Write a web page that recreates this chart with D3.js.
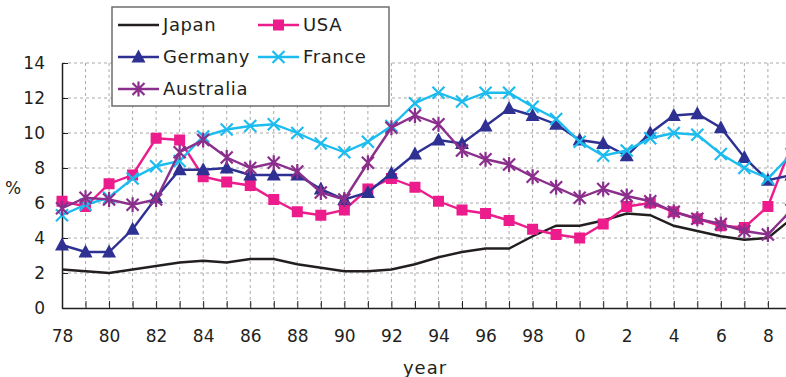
<!DOCTYPE html>
<html lang="en">
<head>
<meta charset="utf-8">
<title>Unemployment rates</title>
<script src="https://cdn.jsdelivr.net/npm/d3@7"></script>
<style>
  body { margin: 0; background: #fff; }
  svg text { font-family: "DejaVu Sans", sans-serif; fill: #231f20; }
</style>
</head>
<body>
<script>
// data (unemployment rate, %)
var years = d3.range(1978, 2010);
var japan     = [2.2,2.1,2.0,2.2,2.4,2.6,2.7,2.6,2.8,2.8,2.5,2.3,2.1,2.1,2.2,2.5,2.9,3.2,3.4,3.4,4.1,4.7,4.7,5.0,5.4,5.3,4.7,4.4,4.1,3.9,4.0,5.1];
var usa       = [6.1,5.8,7.1,7.6,9.7,9.6,7.5,7.2,7.0,6.2,5.5,5.3,5.6,6.8,7.4,6.9,6.1,5.6,5.4,5.0,4.5,4.2,4.0,4.8,5.8,6.0,5.5,5.1,4.7,4.6,5.8,9.3];
var germany   = [3.6,3.2,3.2,4.5,6.3,7.9,7.9,8.0,7.6,7.6,7.6,6.8,6.2,6.6,7.7,8.8,9.6,9.4,10.4,11.4,11.0,10.5,9.6,9.4,8.7,10.0,11.0,11.1,10.3,8.6,7.3,7.6];
var france    = [5.3,5.9,6.3,7.4,8.1,8.4,9.8,10.2,10.4,10.5,10.0,9.4,8.9,9.5,10.4,11.7,12.3,11.8,12.3,12.3,11.5,10.8,9.5,8.7,9.0,9.7,10.0,9.9,8.8,8.0,7.4,8.8];
var australia = [5.7,6.3,6.2,5.9,6.2,8.9,9.6,8.6,8.0,8.3,7.8,6.6,6.2,8.3,10.3,11.0,10.5,9.0,8.5,8.2,7.5,6.9,6.3,6.8,6.4,6.1,5.5,5.1,4.8,4.4,4.2,5.6];
var yTicks = [0,2,4,6,8,10,12,14];

var w = 786, h = 377;
var plotLeft = 62, plotBottom = 308, plotTop = 63;

var svg = d3.select("body").append("svg")
    .attr("width", w).attr("height", h);

var x = d3.scaleLinear().domain([1978, 2009]).range([plotLeft, plotLeft + 31 * 23.53]);
var y = d3.scaleLinear().domain([0, 14]).range([plotBottom, plotTop]);

// grid
svg.append("g").selectAll("line").data(years.slice(1))
    .enter().append("line")
    .attr("x1", function(d){ return x(d); }).attr("x2", function(d){ return x(d); })
    .attr("y1", plotTop).attr("y2", plotBottom)
    .attr("stroke", "#aaaaaa").attr("stroke-width", 1).attr("stroke-dasharray", "3,3");
svg.append("g").selectAll("line").data(yTicks.slice(1))
    .enter().append("line")
    .attr("x1", plotLeft).attr("x2", w)
    .attr("y1", function(d){ return y(d); }).attr("y2", function(d){ return y(d); })
    .attr("stroke", "#aaaaaa").attr("stroke-width", 1).attr("stroke-dasharray", "3,3");

// axes
var xAxis = d3.axisBottom(x).tickValues(years).tickSizeInner(-7).tickSizeOuter(0)
    .tickFormat(function(d){ return d % 2 === 0 ? String(d % 100) : ""; });
var gx = svg.append("g").attr("transform", "translate(0," + plotBottom + ")").call(xAxis);
gx.select(".domain").attr("stroke", "#231f20").attr("stroke-width", 1.5);
gx.selectAll(".tick line").attr("stroke", "#231f20").attr("stroke-width", 1);
gx.selectAll(".tick text").attr("y", 22).attr("font-size", 17).attr("fill", "#231f20")
    .attr("font-family", "DejaVu Sans");

var yAxis = d3.axisLeft(y).tickValues(yTicks).tickSizeInner(-6).tickSizeOuter(0);
var gy = svg.append("g").attr("transform", "translate(" + plotLeft + ",0)").call(yAxis);
gy.select(".domain").attr("stroke", "#231f20").attr("stroke-width", 1.5);
gy.selectAll(".tick line").attr("stroke", "#231f20").attr("stroke-width", 1);
gy.selectAll(".tick text").attr("x", -17).attr("font-size", 17).attr("fill", "#231f20")
    .attr("font-family", "DejaVu Sans");

svg.append("text").attr("x", 13).attr("y", 188).attr("dy", "0.35em")
    .attr("text-anchor", "middle").attr("font-size", 17).text("%");
svg.append("text").attr("x", 425).attr("y", 368).attr("dy", "0.35em")
    .attr("text-anchor", "middle").attr("font-size", 18).attr("letter-spacing", 1).text("year");

// markers
function drawMarker(g, type, color) {
    if (type === "square") {
        g.append("rect").attr("x", -5.5).attr("y", -5.5).attr("width", 11).attr("height", 11).attr("fill", color);
    } else if (type === "triangle") {
        g.append("path").attr("d", "M0,-7.5L7,5.5L-7,5.5Z").attr("fill", color);
    } else if (type === "x") {
        g.append("path").attr("d", "M-6,-6L6,6M-6,6L6,-6")
            .attr("stroke", color).attr("stroke-width", 2.2).attr("fill", "none");
    } else if (type === "star") {
        g.append("path").attr("d", "M-6,-6L6,6M-6,6L6,-6M0,-7.5L0,7.5")
            .attr("stroke", color).attr("stroke-width", 2.2).attr("fill", "none");
    }
}

var series = [
    { name: "Japan", values: japan, color: "#231f20", marker: null },
    { name: "USA", values: usa, color: "#ec1c8c", marker: "square" },
    { name: "Germany", values: germany, color: "#2e3192", marker: "triangle" },
    { name: "France", values: france, color: "#1cbcef", marker: "x" },
    { name: "Australia", values: australia, color: "#8a2f8c", marker: "star" }
];

var line = d3.line()
    .x(function(d, i){ return x(years[i]); })
    .y(function(d){ return y(d); });

series.forEach(function(s) {
    var g = svg.append("g");
    g.append("path").datum(s.values)
        .attr("d", line).attr("fill", "none")
        .attr("stroke", s.color).attr("stroke-width", 2.4);
    if (s.marker) {
        g.selectAll("g").data(s.values).enter().append("g")
            .attr("transform", function(d, i){ return "translate(" + x(years[i]) + "," + y(d) + ")"; })
            .each(function(){ drawMarker(d3.select(this), s.marker, s.color); });
    }
});

// legend
var legend = svg.append("g");
legend.append("rect").attr("x", 112).attr("y", 7).attr("width", 277).attr("height", 99)
    .attr("fill", "#fff").attr("stroke", "#6d6d6d").attr("stroke-width", 1.5);
var legPos = [[118, 25], [258, 25], [118, 57], [258, 57], [118, 89]];
series.forEach(function(s, i) {
    var p = legPos[i];
    var g = legend.append("g").attr("transform", "translate(" + p[0] + "," + p[1] + ")");
    g.append("line").attr("x1", 0).attr("x2", 41).attr("y1", 0).attr("y2", 0)
        .attr("stroke", s.color).attr("stroke-width", 2.4);
    if (s.marker) drawMarker(g.append("g").attr("transform", "translate(20.5,0)"), s.marker, s.color);
    g.append("text").attr("x", 45).attr("y", 0).attr("dy", "0.36em")
        .attr("font-size", 18).attr("letter-spacing", 0.6).text(s.name);
});
</script>
</body>
</html>
